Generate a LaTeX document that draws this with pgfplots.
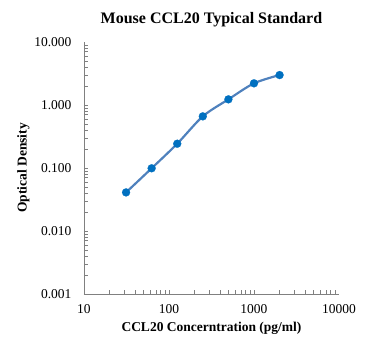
\documentclass[border=0pt]{standalone}
\usepackage{fontspec}
\setmainfont{Liberation Serif}
\usepackage{pgfplots}
\pgfplotsset{compat=1.18}
\definecolor{linec}{HTML}{4F81BD}
\definecolor{markc}{HTML}{0070C0}
\definecolor{axc}{HTML}{808080}
\begin{document}
\begin{tikzpicture}[x=1bp,y=1bp]
\begin{axis}[
  scale only axis,
  width=255bp, height=252bp,
  xmode=log, ymode=log,
  xmin=10, xmax=10000, ymin=0.001, ymax=10,
  axis x line*=bottom, axis y line*=left,
  axis line style={axc, line width=0.8pt},
  tick style={axc, line width=0.6pt},
  major tick length=0pt, minor tick length=4bp,
  tick align=inside,
  xtick={10,100,1000,10000},
  xticklabels={10,100,1000,10000},
  ytick={0.001,0.01,0.1,1,10},
  yticklabels={0.001,0.010,0.100,1.000,10.000},
  tick label style={font=\fontsize{13.5bp}{15bp}\selectfont},
  xticklabel style={yshift=-7bp},
  yticklabel style={xshift=-9bp},
  /pgf/number format/assume math mode=true,
  title={\textbf{Mouse CCL20 Typical Standard}},
  title style={font=\fontsize{16bp}{18bp}\selectfont, yshift=6bp},
  xlabel={\textbf{CCL20 Concerntration (pg/ml)}},
  ylabel={\textbf{Optical Density}},
  label style={font=\fontsize{13.5bp}{15bp}\selectfont},
  xlabel style={yshift=-2bp},
  ylabel style={yshift=-2bp},
  clip=false,
]
\addplot[linec, line width=2.2pt, smooth, tension=0.5, mark=*, mark size=4bp,
  mark options={fill=markc, draw=markc, line width=0.2pt, solid}]
  coordinates {(31.25,0.041) (62.5,0.099) (125,0.243) (250,0.661) (500,1.23) (1000,2.21) (2000,2.99)};
\path (rel axis cs:-0.3294,-0.2262) rectangle (rel axis cs:1.1216,1.1667);
\end{axis}
\end{tikzpicture}
\end{document}
